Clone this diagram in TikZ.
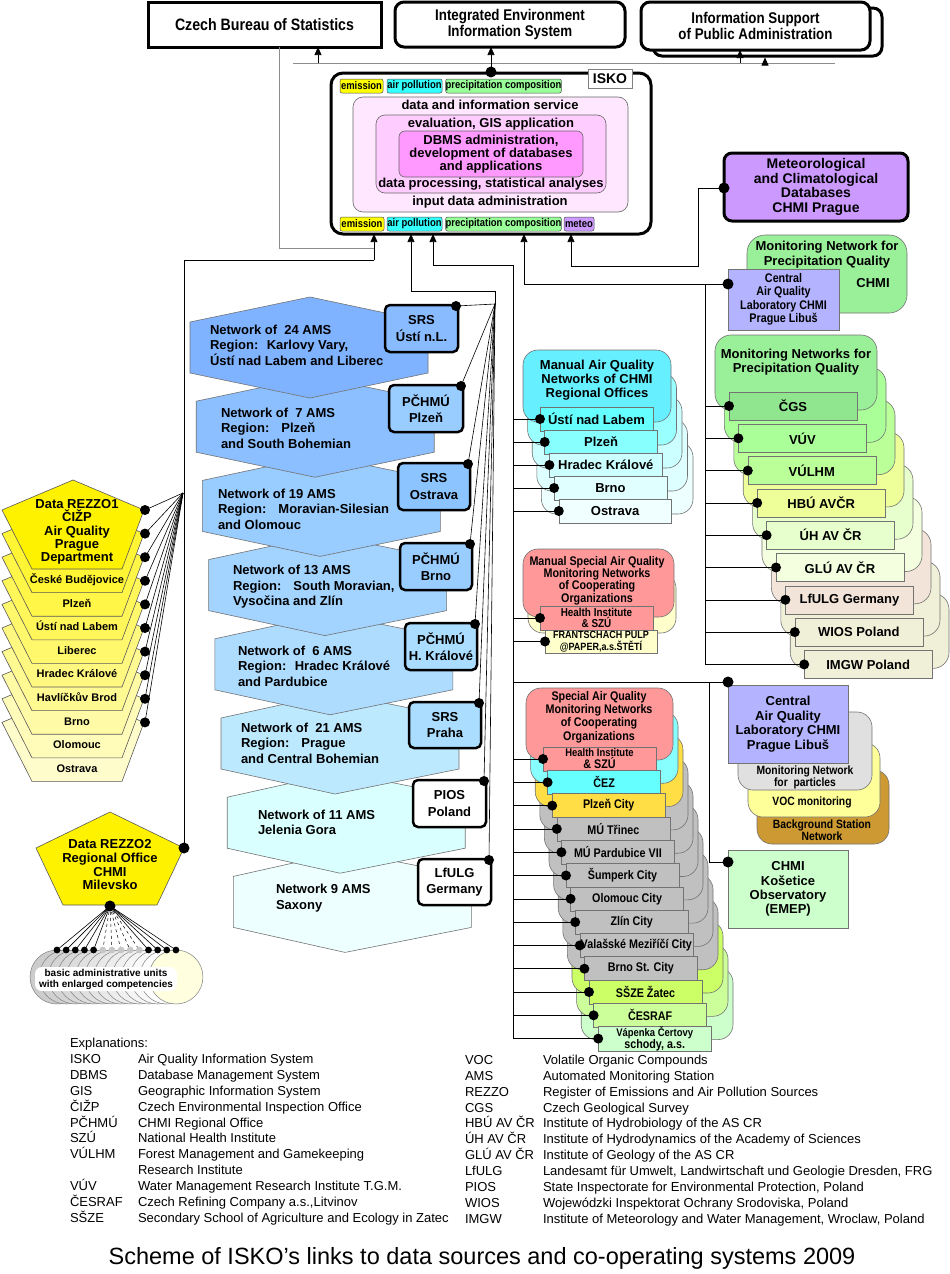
\documentclass[tikz,border=0pt]{standalone}
\usepackage{fontspec}
\setmainfont{Liberation Sans}
\newfontfamily\nar[FakeStretch=0.86]{Liberation Sans}
\usetikzlibrary{arrows.meta}
\newcommand\fz[2]{\fontsize{#1pt}{#2pt}\selectfont}
\newcommand\bx[7]{\node[#6,minimum width={(#4)-(#2)},minimum height={(#5)-(#3)}] (#1) at ({((#2)+(#4))/2},{((#3)+(#5))/2}) {#7};}
\definecolor{tyel}{HTML}{FFFF00}
\definecolor{tcya}{HTML}{33FFFF}
\definecolor{tgre}{HTML}{99FF99}
\definecolor{tmet}{HTML}{CC99FF}
\definecolor{pkA}{HTML}{FFE8FF}
\definecolor{pkB}{HTML}{FFCCFF}
\definecolor{pkC}{HTML}{FF99FF}
\definecolor{lav}{HTML}{B3B3FF}
\definecolor{chmig}{HTML}{99F099}
\definecolor{hx1}{HTML}{80B3FF}
\definecolor{hx2}{HTML}{8CBFFF}
\definecolor{hx3}{HTML}{99CCFF}
\definecolor{hx4}{HTML}{A3D3FF}
\definecolor{hx5}{HTML}{ADDCFF}
\definecolor{hx6}{HTML}{BDE9FF}
\definecolor{hx7}{HTML}{D9FFFF}
\definecolor{hx8}{HTML}{EEFFFF}
\definecolor{st1}{HTML}{88BBFF}
\definecolor{st2}{HTML}{99CCFF}
\definecolor{st3}{HTML}{8CC4FF}
\definecolor{st5}{HTML}{AADDFF}
\definecolor{spS}{HTML}{FF9999}
\definecolor{spC}{HTML}{66FFFF}
\definecolor{spCc}{HTML}{88FFFF}
\definecolor{spG}{HTML}{FFDD44}
\definecolor{spY}{HTML}{C0C0C0}
\definecolor{spL}{HTML}{CCFF66}
\definecolor{spM}{HTML}{CCFF99}
\definecolor{spP}{HTML}{CCFFCC}
\definecolor{crm}{HTML}{FFFFCC}
\definecolor{ma0}{HTML}{66F0FF}
\definecolor{ma1}{HTML}{99FFFF}
\definecolor{ma2}{HTML}{CCFFFF}
\definecolor{ma3}{HTML}{DDFFFF}
\definecolor{ma4}{HTML}{EEFFFF}
\definecolor{mi0}{HTML}{66FFFF}
\definecolor{mi1}{HTML}{88FFFF}
\definecolor{mi2}{HTML}{CCFFFF}
\definecolor{mi3}{HTML}{E0FFFF}
\definecolor{mi4}{HTML}{F0FFFF}
\definecolor{pqc0}{HTML}{99F099}
\definecolor{pq0}{HTML}{8FE68F}
\definecolor{pq1}{HTML}{AAFF99}
\definecolor{pq2}{HTML}{BBFF99}
\definecolor{pq3}{HTML}{EEFF99}
\definecolor{pq4}{HTML}{E6FFCC}
\definecolor{pq5}{HTML}{F4FFE0}
\definecolor{pq6}{HTML}{F2E4D8}
\definecolor{pq7}{HTML}{F0F0D8}
\definecolor{pq8}{HTML}{F0F0D8}
\definecolor{partc}{HTML}{E0E0E0}
\definecolor{vocc}{HTML}{FFFF99}
\definecolor{bgsc}{HTML}{CC9933}
\definecolor{kosc}{HTML}{CCFFCC}
\begin{document}
\begin{tikzpicture}[x=1pt,y=-1pt,
  every node/.style={inner sep=0pt, outer sep=0pt},
  thickbox/.style={draw, line width=3pt, fill=white, align=center},
  tag/.style={draw=black!70, line width=0.5pt, rounded corners=2pt, font=\nar\bfseries\fz{11}{11}},
  layer/.style={draw=black!60, line width=0.6pt},
  lt/.style={font=\bfseries\fz{13}{13}},
  card/.style={draw=black!55, line width=0.6pt, rounded corners=15pt},
  item/.style={draw=black!55, line width=0.6pt, align=center},
  conn/.style={draw=black, line width=0.6pt},
  gconn/.style={draw=black!45, line width=1pt},
  arr/.style={-{Triangle[length=8pt,width=7pt]}},
  station/.style={draw, line width=2.5pt, rounded corners=5pt, align=center, font=\bfseries\fz{13}{16.5}},
  hex/.style={draw=black!55, line width=0.6pt},
  pent/.style={draw=black!65, line width=0.6pt},
  nt/.style={font=\bfseries\fz{13}{15.5}, align=left, anchor=west},
  ex/.style={font=\fz{13}{13}, anchor=west, text height=9.5pt, text depth=3pt},
]
\fill[white] (0,0) rectangle (950,1274);
\useasboundingbox (0,0) rectangle (950,1274);

% ---------------- top boxes
\bx{czech}{148}{2}{381}{47}{thickbox,font=\nar\bfseries\fz{16.5}{16}}{Czech Bureau of Statistics}
\bx{ieis}{395}{2}{625}{47}{thickbox,rounded corners=9pt,font=\nar\bfseries\fz{15.5}{16}}{Integrated Environment\\Information System}
\draw[line width=3pt, rounded corners=9pt, fill=white] (653,8) rectangle (882,56);
\bx{ispa}{641}{2}{870}{50}{thickbox,rounded corners=9pt,font=\nar\bfseries\fz{15.5}{16}}{Information Support\\of Public Administration}

% ---------------- ISKO
\bx{isko}{331}{73}{651}{234}{draw, line width=3pt, rounded corners=12pt, fill=white}{}
\bx{lay1}{353}{97}{628}{212}{layer, fill=pkA, rounded corners=10pt}{}
\bx{lay2}{376}{115}{606}{193}{layer, fill=pkB, rounded corners=9pt}{}
\bx{lay3}{399}{131}{583}{177}{layer, fill=pkC, rounded corners=6pt, align=center, font=\bfseries\fz{13}{13}}{DBMS administration,\\development of databases\\and applications}
\node[lt] (l1a) at (490,105) {data and information service};
\node[lt] (l1b) at (490,202) {input data administration};
\node[lt] (l2a) at (491,124) {evaluation, GIS application};
\node[lt] (l2b) at (491,184) {data processing, statistical analyses};
\bx{iskolbl}{588}{69}{632}{88}{draw=black!50, line width=1pt, fill=white, font=\bfseries\fz{14}{14}}{ISKO}
\bx{ta1}{340}{79}{383}{93}{tag, fill=tyel}{emission}
\bx{ta2}{387}{79}{442}{93}{tag, fill=tcya}{air pollution}
\bx{ta3}{446}{79}{561}{93}{tag, fill=tgre}{precipitation composition}
\bx{tb1}{340}{217}{384}{231}{tag, fill=tyel}{emission}
\bx{tb2}{387}{217}{442}{231}{tag, fill=tcya}{air pollution}
\bx{tb3}{446}{217}{561}{231}{tag, fill=tgre}{precipitation composition}
\bx{tb4}{564}{217}{594}{231}{tag, fill=tmet}{meteo}

% ---------------- Meteo & CHMI precipitation
\bx{meteo}{724}{153}{908}{221}{draw, line width=3pt, rounded corners=8pt, fill=tmet, align=center, font=\bfseries\fz{14}{14.5}}{Meteorological\\and Climatological\\Databases\\CHMI Prague}
\bx{mnpq}{747}{235}{907}{313}{card, rounded corners=18pt, fill=chmig}{}
\node[lt] (mnpqa) at (827,247) {Monitoring Network for};
\node[lt] (mnpqb) at (827,262) {Precipitation Quality};
\node[lt] (mnpqc) at (873,283) {CHMI};
\bx{caql1}{728}{269}{839}{330}{item, fill=lav, font=\nar\bfseries\fz{12.5}{13.5}}{Central\\Air Quality\\Laboratory CHMI\\Prague Libuš}

% ---------------- right column: precipitation networks
\foreach \i/\cc in {8/pq8,7/pq7,6/pq6,5/pq5,4/pq4,3/pq3,2/pq2,1/pq1,0/pqc0}{
  \pgfmathsetmacro\xa{715+9.4*\i}\pgfmathsetmacro\xb{877+9*\i}
  \pgfmathsetmacro\ya{335+32.3*\i}\pgfmathsetmacro\yb{410+32.3*\i}
  \draw[card, rounded corners=16pt, fill=\cc] (\xa,\ya) rectangle (\xb,\yb);
}
\node[lt] (mnpa) at (796,355) {Monitoring Networks for};
\node[lt] (mnpb) at (796,369) {Precipitation Quality};

% ---------------- Manual AQ
\foreach \i/\cc in {4/ma4,3/ma3,2/ma2,1/ma1,0/ma0}{
  \pgfmathsetmacro\xa{523+4.6*\i}\pgfmathsetmacro\xb{671+5.5*\i}
  \pgfmathsetmacro\ya{350+23*\i}\pgfmathsetmacro\yb{422+23*\i}
  \draw[card, fill=\cc] (\xa,\ya) rectangle (\xb,\yb);
}
\node[lt, align=center, font=\bfseries\fz{13}{14}] (mat) at (597,380) {Manual Air Quality\\Networks of CHMI\\Regional Offices};

% ---------------- Manual special
\draw[card, fill=crm] (528,573) rectangle (676,633);
\draw[card, fill=spS] (523,549) rectangle (674,617);
\node[align=center, font=\nar\bfseries\fz{12.5}{12.4}] (mst) at (597,580.5) {Manual Special Air Quality\\Monitoring Networks\\of Cooperating\\Organizations};

% ---------------- Special AQ
\foreach \i/\cc in {12/spP,11/spM,10/spL,9/spY,8/spY,7/spY,6/spY,5/spY,4/spY,3/spY,2/spG,1/spCc,0/spS}{
  \pgfmathsetmacro\xa{526+4.6*\i}\pgfmathsetmacro\xb{673+5*\i}
  \pgfmathsetmacro\ya{688+23.3*\i}\pgfmathsetmacro\yb{760+23.3*\i}
  \draw[card, fill=\cc] (\xa,\ya) rectangle (\xb,\yb);
}
\node[align=center, font=\nar\bfseries\fz{12.5}{13.3}] (sst) at (599,717) {Special Air Quality\\Monitoring Networks\\of Cooperating\\Organizations};

% ---------------- lower right group
\draw[card, fill=bgsc] (757,770) rectangle (889,844);
\draw[card, fill=vocc] (748,743) rectangle (880,817);
\draw[card, fill=partc] (738,712) rectangle (872,790);
\node[align=center, font=\nar\bfseries\fz{12}{12}] (bgst) at (822,830) {Background Station\\Network};
\node[font=\nar\bfseries\fz{12}{12}] (voct) at (812,802) {VOC monitoring};
\node[align=center, font=\nar\bfseries\fz{12}{12}] (part) at (805,777) {Monitoring Network\\for \ particles};
\bx{caql2}{728}{685}{848}{763}{item, fill=lav, font=\bfseries\fz{13}{14.5}}{Central\\Air Quality\\Laboratory CHMI\\Prague Libuš}
\bx{kos}{728}{850}{848}{928}{item, fill=kosc, font=\bfseries\fz{13}{14.4}}{CHMI\\Košetice\\Observatory\\(EMEP)}

% ---------------- networks (hexagons)
\foreach \k/\cc in {7/hx8,6/hx7,5/hx6,4/hx5,3/hx4,2/hx3,1/hx2,0/hx1}{
  \pgfmathsetmacro\L{190+6.2*\k}\pgfmathsetmacro\T{322+79.2*\k}
  \pgfmathsetmacro\B{\T+51}\pgfmathsetmacro\A{310+5*\k}
  \pgfmathsetmacro\R{428+6.2*\k}\pgfmathsetmacro\Tt{\T-25}\pgfmathsetmacro\Bb{\B+25}
  \draw[hex, fill=\cc] (\L,\T) -- (\A,\Tt) -- (\R,\T) -- (\R,\B) -- (\A,\Bb) -- (\L,\B) -- cycle;
}
\node[nt] (n1) at (210,345) {Network of \ 24 AMS\\Region: \ Karlovy Vary,\\Ústí nad Labem and Liberec};
\node[nt] (n2) at (221,428) {Network of \ 7 AMS\\Region: \ \ Plzeň\\and South Bohemian};
\node[nt] (n3) at (218,509) {Network of 19 AMS\\Region: \ \ Moravian-Silesian\\and Olomouc};
\node[nt] (n4) at (233,587) {Network of 13 AMS\\Region: \ \ South Moravian,\\Vysočina and Zlín};
\node[nt] (n5) at (238,666) {Network of \ 6 AMS\\Region: \ Hradec Králové\\and Pardubice};
\node[nt] (n6) at (241,743) {Network of \ 21 AMS\\Region: \ \ Prague\\and Central Bohemian};
\node[nt] (n7) at (258,822.5) {Network of 11 AMS\\Jelenia Gora};
\node[nt] (n8) at (276,898) {Network 9 AMS\\Saxony};

% ---------------- REZZO1
\foreach \k in {9,8,...,1}{
  \pgfmathsetmacro\dy{23.6*\k}\pgfmathsetmacro\cl{87-7.4*\k}
  \pgfmathsetmacro\ya{480+\dy}\pgfmathsetmacro\yb{510+\dy}\pgfmathsetmacro\yc{569+\dy}
  \draw[pent, fill=yellow!\cl!white] (73,\ya) -- (144,\yb) -- (122,\yc) -- (32,\yc) -- (2,\yb) -- cycle;
}
\draw[pent, fill=yellow] (73,480) -- (144,510) -- (122,569) -- (32,569) -- (2,510) -- cycle;
\node[align=center, font=\bfseries\fz{13}{13.4}] (rz1) at (77,532) {Data REZZO1\\ČIŽP\\Air Quality\\Prague\\Department};
\foreach \k/\lab in {1/České Budějovice,2/Plzeň,3/Ústí nad Labem,4/Liberec,5/Hradec Králové,6/Havlíčkův Brod,7/Brno,8/Olomouc,9/Ostrava}{
  \pgfmathsetmacro\yt{557.2+23.6*\k}
  \node[font=\bfseries\fz{11}{11}, text height=8pt, text depth=2.5pt] (rzl\k) at (77,\yt) {\lab};
}

% ---------------- REZZO2
\draw[pent, fill=yellow] (110,812) -- (184,848) -- (157,905) -- (63,905) -- (36,848) -- cycle;
\node[align=center, font=\bfseries\fz{13}{13.7}] (rz2) at (110,864.7) {Data REZZO2\\Regional Office\\CHMI\\Milevsko};
\coordinate (rz2b) at (110,906);
\foreach \i in {0,...,13}{
  \pgfmathsetmacro\cx{57+9.15*\i}
  \coordinate (bu\i) at (\cx,950);
}
\foreach \i in {0,...,4,10,11,12,13}{ \draw[conn] (rz2b) -- (bu\i); }
\foreach \i in {5,...,9}{ \draw[conn, dashed, line width=0.5pt] (rz2b) -- (bu\i); }
\foreach \i in {0,...,12}{
  \pgfmathsetmacro\g{20-1.6*\i}
  \draw[draw=black!50, line width=0.5pt, fill=black!\g!white] (bu\i) ++(0,27) circle (27pt);
}
\draw[draw=black!50, line width=0.5pt, fill=crm!60!white] (bu13) ++(0,27) circle (27pt);
\foreach \i in {0,...,4,10,11,12,13}{ \fill (bu\i) circle (3.4pt); }
\foreach \i in {5,...,9}{ \fill[black!22] (bu\i) circle (3.4pt); }
\bx{bau}{35}{967}{177}{991}{fill=white, rounded corners=7pt, align=center, font=\bfseries\fz{10}{11}}{basic administrative units\\with enlarged competencies}

% ---------------- station boxes
\bx{s1}{385}{305}{458}{352}{station, fill=st1}{SRS\\Ústí n.L.}
\bx{s2}{389}{385}{463}{432}{station, fill=st2}{PČHMÚ\\Plzeň}
\bx{s3}{398}{463}{470}{510}{station, fill=st3}{SRS\\Ostrava}
\bx{s4}{400}{543}{472}{590}{station, fill=st2}{PČHMÚ\\Brno}
\bx{s5}{405}{623}{477}{670}{station, fill=st5}{PČHMÚ\\H. Králové}
\bx{s6}{409}{702}{481}{748}{station, fill=st5}{SRS\\Praha}
\bx{s7}{413}{780}{486}{827}{station, fill=white}{PIOS\\Poland}
\bx{s8}{418}{859}{491}{905}{station, fill=white}{LfULG\\Germany}

% ---------------- item rectangles
\foreach \i/\cc/\lab in {0/mi0/Ústí nad Labem,1/mi1/Plzeň,2/mi2/Hradec Králové,3/mi3/Brno,4/mi4/Ostrava}{
  \pgfmathsetmacro\xa{540+4.7*\i}\pgfmathsetmacro\xb{653+4.6*\i}
  \pgfmathsetmacro\ya{407+23*\i}\pgfmathsetmacro\yb{431+23*\i}
  \bx{ma\i}{\xa}{\ya}{\xb}{\yb}{item, fill=\cc, font=\bfseries\fz{13}{13}}{\lab}
}
\bx{msp0}{540}{606}{653}{630}{item, fill=spS, font=\nar\bfseries\fz{11.5}{11.5}}{Health Institute\\\& SZÚ}
\bx{msp1}{545}{630}{657}{653}{item, fill=crm, font=\nar\bfseries\fz{10.5}{11.5}}{FRANTSCHACH PULP\\@PAPER,a.s.ŠTĚTÍ}
\foreach \i/\cc/\lab in {0/spS/{\fz{11}{10.5}Health Institute\\\& SZÚ},1/spC/ČEZ,2/spG/Plzeň City,3/spY/MÚ Třinec,4/spY/MÚ Pardubice VII,5/spY/Šumperk City,6/spY/Olomouc City,7/spY/Zlín City,8/spY/Valašské Meziříčí City,9/spY/Brno St. City,10/spL/SŠZE Žatec,11/spM/ČESRAF,12/spP/{\fz{11}{10}Vápenka Čertovy\\schody, a.s.}}{
  \pgfmathsetmacro\xa{543+4.6*\i}\pgfmathsetmacro\xb{656+4.6*\i}
  \pgfmathsetmacro\ya{747+23.3*\i}\pgfmathsetmacro\yb{771+23.3*\i}
  \bx{sp\i}{\xa}{\ya}{\xb}{\yb}{item, fill=\cc, font=\nar\bfseries\fz{12.5}{12}}{\lab}
}
\foreach \i/\cc/\lab in {0/pq0/ČGS,1/pq1/VÚV,2/pq2/VÚLHM,3/pq3/HBÚ AVČR,4/pq4/ÚH AV ČR,5/pq5/GLÚ AV ČR,6/pq6/LfULG Germany,7/pq7/WIOS Poland,8/pq8/IMGW Poland}{
  \pgfmathsetmacro\xa{729+9.4*\i}\pgfmathsetmacro\xb{857+9.4*\i}
  \pgfmathsetmacro\ya{392+32.3*\i}\pgfmathsetmacro\yb{420+32.3*\i}
  \bx{pq\i}{\xa}{\ya}{\xb}{\yb}{item, fill=\cc, font=\bfseries\fz{13}{13}}{\lab}
}

% ---------------- connectors
\coordinate (busL) at (293,63);
\coordinate (busR) at (835,63);
\draw[gconn] (busL) -- (busR);
\coordinate (aC) at (318,63);
\draw[conn,arr] (aC) -- (aC |- czech.south);
\coordinate (iskoTop) at (491,72);
\draw[conn,arr] (iskoTop) -- (iskoTop |- ieis.south);
\coordinate (aS1) at (740,63);
\draw[conn,arr] (aS1) -- (aS1 |- ispa.south);
\coordinate (aS2) at (765,63);
\coordinate (ispaSh) at (765,57.5);
\draw[conn,arr] (aS2) -- (ispaSh);

\coordinate (czB) at (279,248);
\coordinate (xA) at (374,260);
\draw[gconn] (czech.south -| czB) -- (czB) -- (czB -| xA);
\coordinate (rz2d) at (184,848);
\coordinate (lbTop) at (183,260);
\draw[conn] (rz2d) -- (rz2d |- lbTop) -- (xA);
\draw[conn,arr] (xA) -- (xA |- isko.south);

\coordinate (fan) at (495,304);
\coordinate (nb1) at (495,291);
\coordinate (nb2) at (411,291);
\draw[conn,arr] (fan) -- (nb1) -- (nb2) -- (nb2 |- isko.south);

\coordinate (mb0) at (433,265);
\coordinate (mb1) at (513,265);
\coordinate (mb2) at (513,1039);
\draw[conn,arr] (mb2) -- (mb1) -- (mb0) -- (mb0 |- isko.south);

\coordinate (rb0) at (524,284);
\coordinate (rb1) at (705,284);
\coordinate (rb2) at (705,665);
\coordinate (caqd1) at (728,284);
\draw[conn] (rb2) -- (rb1);
\draw[conn,arr] (caqd1) -- (rb0) -- (rb0 |- isko.south);

\coordinate (mtd) at (724,188);
\coordinate (mt1) at (698,188);
\coordinate (mt2) at (698,266);
\coordinate (mt3) at (571,266);
\draw[conn,arr] (mtd) -- (mt1) -- (mt2) -- (mt3) -- (mt3 |- isko.south);

\coordinate (lr0) at (513,682);
\coordinate (lr1) at (709,682);
\coordinate (caqd2) at (728,682);
\coordinate (kosd) at (728,862);
\draw[conn] (lr0) -- (caqd2);
\draw[conn] (lr1) -- (lr1 |- kosd) -- (kosd);

% REZZO1 fan
\coordinate (rzf) at (183,493);
\foreach \k in {0,...,9}{
  \pgfmathsetmacro\yd{510+23.6*\k}
  \coordinate (rzd\k) at (145,\yd);
  \draw[conn] (rzd\k) -- (rzf);
}
% stations fan
\foreach \s in {1,...,8}{
  \coordinate (sd\s) at ([xshift=-2pt,yshift=-1pt]s\s.north east);
  \draw[conn] (sd\s) -- (fan);
}
% middle column lines
\foreach \i in {0,...,4}{ \coordinate (mad\i) at (ma\i.west); \draw[conn] (mad\i -| mb1) -- (mad\i); }
\foreach \i in {0,1}{ \coordinate (mspd\i) at (msp\i.west); \draw[conn] (mspd\i -| mb1) -- (mspd\i); }
\foreach \i in {0,...,12}{ \coordinate (spd\i) at (sp\i.west); \draw[conn] (spd\i -| mb1) -- (spd\i); }
\foreach \i in {0,...,8}{ \coordinate (pqd\i) at (pq\i.west); \draw[conn] (pqd\i -| rb1) -- (pqd\i); }

% dots
\foreach \c in {iskoTop,mtd,caqd1,caqd2,kosd,rz2d,rz2b}{ \fill (\c) circle (5.5pt); }
\foreach \k in {0,...,9}{ \fill (rzd\k) circle (5pt); }
\foreach \s in {1,...,8}{ \fill (sd\s) circle (5pt); }
\foreach \i in {0,...,4}{ \fill (mad\i) circle (5pt); }
\foreach \i in {0,1}{ \fill (mspd\i) circle (5pt); }
\foreach \i in {0,...,12}{ \fill (spd\i) circle (5pt); }
\foreach \i in {0,...,8}{ \fill (pqd\i) circle (5pt); }

% ---------------- explanations
\node[ex] (exh) at (70,1044) {Explanations:};
\foreach \n/\y/\a/\d in {1/1060/ISKO/Air Quality Information System,2/1076/DBMS/Database Management System,3/1092/GIS/Geographic Information System,4/1108/ČIŽP/Czech Environmental Inspection Office,5/1124/PČHMÚ/CHMI Regional Office,6/1139/SZÚ/National Health Institute,7/1155/VÚLHM/Forest Management and Gamekeeping,8/1171/{}/Research Institute,9/1187/VÚV/Water Management Research Institute T.G.M.,10/1203/ČESRAF/{Czech Refining Company a.s.,Litvinov},11/1219/SŠZE/Secondary School of Agriculture and Ecology in Zatec}{
  \node[ex] (exla\n) at (70,\y) {\a};
  \node[ex] (exld\n) at (138,\y) {\d};
}
\foreach \n/\y/\a/\d in {1/1061/VOC/Volatile Organic Compounds,2/1077/AMS/Automated Monitoring Station,3/1093/REZZO/Register of Emissions and Air Pollution Sources,4/1109/CGS/Czech Geological Survey,5/1124/HBÚ AV ČR/Institute of Hydrobiology of the AS CR,6/1140/ÚH AV ČR/Institute of Hydrodynamics of the Academy of Sciences,7/1156/GLÚ AV ČR/Institute of Geology of the AS CR,8/1172/LfULG/{Landesamt für Umwelt, Landwirtschaft und Geologie Dresden, FRG},9/1188/PIOS/{State Inspectorate for Environmental Protection, Poland},10/1204/WIOS/{Wojewódzki Inspektorat Ochrany Srodoviska, Poland},11/1220/IMGW/{Institute of Meteorology and Water Management, Wroclaw, Poland}}{
  \node[ex] (exra\n) at (465,\y) {\a};
  \node[ex] (exrd\n) at (543,\y) {\d};
}
\node[font=\fz{23.5}{23.5}] (title) at (482,1258) {Scheme of ISKO’s links to data sources and co-operating systems 2009};
\end{tikzpicture}
\end{document}
